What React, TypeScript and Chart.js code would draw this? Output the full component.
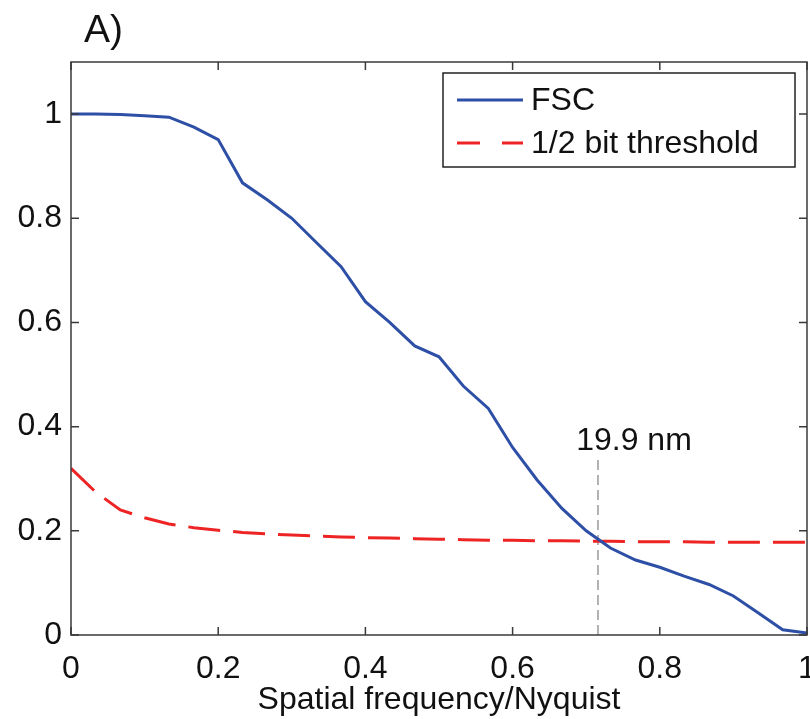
import React, { useEffect, useRef } from "react";
import { Chart, registerables } from "chart.js";

Chart.register(...registerables);

const freq = [0, 0.033, 0.067, 0.1, 0.133, 0.167, 0.2, 0.233, 0.267, 0.3, 0.333, 0.367, 0.4, 0.433, 0.467, 0.5, 0.533, 0.567, 0.6, 0.633, 0.667, 0.7, 0.733, 0.767, 0.8, 0.833, 0.867, 0.9, 0.933, 0.967, 1.0];
const fsc = [1.0, 1.0, 0.999, 0.997, 0.994, 0.975, 0.951, 0.868, 0.835, 0.8, 0.754, 0.707, 0.64, 0.6, 0.555, 0.534, 0.478, 0.435, 0.36, 0.298, 0.243, 0.2, 0.167, 0.144, 0.13, 0.113, 0.097, 0.075, 0.043, 0.01, 0.004];
const threshold = [0.32, 0.275, 0.24, 0.225, 0.213, 0.206, 0.201, 0.197, 0.194, 0.192, 0.19, 0.188, 0.187, 0.186, 0.185, 0.184, 0.183, 0.182, 0.182, 0.181, 0.181, 0.18, 0.18, 0.179, 0.179, 0.179, 0.178, 0.178, 0.178, 0.178, 0.178];
const xTicks = [0, 0.2, 0.4, 0.6, 0.8, 1];
const yTicks = [0, 0.2, 0.4, 0.6, 0.8, 1];
const seriesNames = ["FSC", "1/2 bit threshold"];
const crossingX = 0.716;
const crossingTop = 0.345;
const crossingLabel = "19.9 nm";
const panelLabel = "A)";
const xTitle = "Spatial frequency/Nyquist";

const FONT = "'Liberation Sans', Arial, Helvetica, sans-serif";
const BLUE = "#2e4fa6";
const RED = "#ee2424";

const decorPlugin = {
  id: "decor",
  beforeDatasetsDraw(chart: any) {
    const { ctx, scales } = chart;
    const xs = scales.x, ys = scales.y;
    const px = xs.getPixelForValue(crossingX);
    ctx.save();
    ctx.strokeStyle = "#9a9a9a";
    ctx.lineWidth = 1.5;
    ctx.setLineDash([10, 5]);
    ctx.beginPath();
    ctx.moveTo(px, ys.getPixelForValue(0));
    ctx.lineTo(px, ys.getPixelForValue(crossingTop));
    ctx.stroke();
    ctx.setLineDash([]);
    ctx.fillStyle = "#111";
    ctx.font = `32px ${FONT}`;
    ctx.textAlign = "center";
    ctx.textBaseline = "alphabetic";
    ctx.fillText(crossingLabel, px + 36, ys.getPixelForValue(crossingTop) - 5);
    ctx.restore();
  },
  afterDraw(chart: any) {
    const { ctx, chartArea, scales } = chart;
    const { left, right, top, bottom } = chartArea;
    const xs = scales.x, ys = scales.y;
    ctx.save();
    ctx.strokeStyle = "#3a3a3a";
    ctx.lineWidth = 1.5;
    ctx.strokeRect(left, top, right - left, bottom - top);
    const tl = 8;
    ctx.beginPath();
    xTicks.forEach((v) => {
      const x = xs.getPixelForValue(v);
      ctx.moveTo(x, bottom);
      ctx.lineTo(x, bottom - tl);
      ctx.moveTo(x, top);
      ctx.lineTo(x, top + tl);
    });
    yTicks.forEach((v) => {
      const y = ys.getPixelForValue(v);
      ctx.moveTo(left, y);
      ctx.lineTo(left + tl, y);
      ctx.moveTo(right, y);
      ctx.lineTo(right - tl, y);
    });
    ctx.stroke();

    const bx = 443, by = 73, bw = 352, bh = 94;
    ctx.fillStyle = "#fff";
    ctx.fillRect(bx, by, bw, bh);
    ctx.strokeStyle = "#222";
    ctx.lineWidth = 1.5;
    ctx.strokeRect(bx, by, bw, bh);
    const rows = [100, 143];
    chart.data.datasets.forEach((ds: any, i: number) => {
      const y = rows[i];
      ctx.strokeStyle = ds.borderColor;
      ctx.lineWidth = 3;
      ctx.setLineDash(i === 1 ? [23, 22] : []);
      ctx.beginPath();
      ctx.moveTo(457, y);
      ctx.lineTo(523, y);
      ctx.stroke();
      ctx.setLineDash([]);
      ctx.fillStyle = "#111";
      ctx.font = `32px ${FONT}`;
      ctx.textAlign = "left";
      ctx.textBaseline = "middle";
      ctx.fillText(ds.label, 531, y + 1);
    });

    ctx.fillStyle = "#111";
    ctx.font = `39px ${FONT}`;
    ctx.textAlign = "left";
    ctx.textBaseline = "alphabetic";
    ctx.fillText(panelLabel, 84, 42);
    ctx.restore();
  },
};

export default function App() {
  const ref = useRef<HTMLCanvasElement>(null);
  useEffect(() => {
    if (!ref.current) return;
    const chart = new Chart(ref.current, {
      type: "line",
      data: {
        datasets: [
          {
            label: seriesNames[0],
            data: freq.map((x, i) => ({ x, y: fsc[i] })),
            borderColor: BLUE,
            borderWidth: 3,
            pointRadius: 0,
            tension: 0,
            fill: false,
          },
          {
            label: seriesNames[1],
            data: freq.map((x, i) => ({ x, y: threshold[i] })),
            borderColor: RED,
            borderWidth: 3,
            borderDash: [32, 13],
            pointRadius: 0,
            tension: 0,
            fill: false,
          },
        ],
      },
      options: {
        animation: false,
        responsive: false,
        devicePixelRatio: 1,
        layout: { padding: { left: 0, right: 3, top: 62, bottom: 0 } },
        plugins: { legend: { display: false }, title: { display: false }, tooltip: { enabled: false } },
        scales: {
          x: {
            type: "linear",
            min: 0,
            max: 1,
            grid: { display: false, drawTicks: false },
            border: { display: false },
            afterBuildTicks: (s: any) => { s.ticks = xTicks.map((v) => ({ value: v })); },
            afterFit: (s: any) => { s.height = 84; s.paddingLeft = 0; s.paddingRight = 0; },
            ticks: {
              color: "#111",
              font: { family: FONT, size: 32 },
              padding: 15,
              maxRotation: 0,
              autoSkip: false,
              callback: (v: any) => String(Number(Number(v).toFixed(1))),
            },
            title: {
              display: true,
              text: xTitle,
              color: "#111",
              font: { family: FONT, size: 32 },
              padding: { top: 0, bottom: 0 },
            },
          },
          y: {
            type: "linear",
            min: 0,
            max: 1.1,
            grid: { display: false, drawTicks: false },
            border: { display: false },
            afterBuildTicks: (s: any) => { s.ticks = yTicks.map((v) => ({ value: v })); },
            afterFit: (s: any) => { s.width = 71; s.paddingTop = 0; s.paddingBottom = 0; },
            ticks: {
              color: "#111",
              font: { family: FONT, size: 32 },
              padding: 9,
              autoSkip: false,
              callback: (v: any) => String(Number(Number(v).toFixed(1))),
            },
          },
        },
      },
      plugins: [decorPlugin],
    } as any);
    return () => chart.destroy();
  }, []);
  return (
    <div style={{ position: "absolute", left: 0, top: 0, width: 810, height: 719, background: "#fff" }}>
      <canvas ref={ref} width={810} height={719} style={{ display: "block" }} />
    </div>
  );
}
